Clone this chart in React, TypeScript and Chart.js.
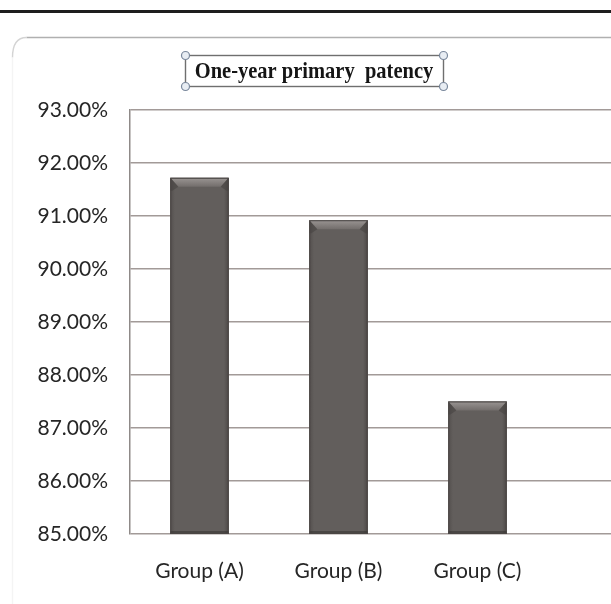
import React, { useEffect, useRef } from "react";
import { Chart, registerables } from "chart.js";

Chart.register(...registerables);

const categories = ["Group (A)", "Group (B)", "Group (C)", ""];
const patency = [91.72, 90.92, 87.5, null];
const yMin = 85;
const yMax = 93;
const yStep = 1;
const titleText = "One-year primary  patency";

const decorPlugin = {
  id: "decor",
  beforeDraw(chart: any) {
    const ctx = chart.ctx;
    ctx.save();
    ctx.fillStyle = "#ffffff";
    ctx.fillRect(0, 0, chart.width, chart.height);
    ctx.fillStyle = "#1e1e1e";
    ctx.fillRect(0, 10, chart.width, 3);
    const x0 = 12.5, y0 = 37.5, r = 14;
    ctx.strokeStyle = "#b0b0b0";
    ctx.lineWidth = 1.4;
    ctx.beginPath();
    ctx.moveTo(x0 + r, y0);
    ctx.lineTo(chart.width, y0);
    ctx.stroke();
    ctx.strokeStyle = "#d4d4d4";
    ctx.beginPath();
    ctx.moveTo(x0, y0 + r + 6);
    ctx.quadraticCurveTo(x0, y0, x0 + r, y0);
    ctx.stroke();
    ctx.strokeStyle = "#f4f4f4";
    ctx.beginPath();
    ctx.moveTo(x0, y0 + r + 6);
    ctx.lineTo(x0, chart.height);
    ctx.stroke();
    ctx.restore();
  },
  afterDatasetsDraw(chart: any) {
    const ctx = chart.ctx;
    const meta = chart.getDatasetMeta(0);
    const area = chart.chartArea;
    ctx.save();
    meta.data.forEach((bar: any, i: number) => {
      if (patency[i] == null) return;
      const w = bar.width;
      const left = bar.x - w / 2;
      const right = bar.x + w / 2;
      const top = bar.y;
      const bottom = Math.min(bar.base, area.bottom);
      const b = 9;
      const s = 8;
      const gb = ctx.createLinearGradient(left, 0, right, 0);
      gb.addColorStop(0, "#534f4d");
      gb.addColorStop(0.08, "#625e5c");
      gb.addColorStop(0.92, "#625e5c");
      gb.addColorStop(1, "#4c4846");
      ctx.fillStyle = gb;
      ctx.fillRect(left, top, w, bottom - top);
      const g = ctx.createLinearGradient(0, top, 0, top + b);
      g.addColorStop(0, "#9a9593");
      g.addColorStop(1, "#726d6b");
      ctx.fillStyle = g;
      ctx.beginPath();
      ctx.moveTo(left, top);
      ctx.lineTo(right, top);
      ctx.lineTo(right - s, top + b);
      ctx.lineTo(left + s, top + b);
      ctx.closePath();
      ctx.fill();
      ctx.fillStyle = "rgba(70,66,64,0.55)";
      ctx.beginPath();
      ctx.moveTo(left, top);
      ctx.lineTo(left + s, top + b);
      ctx.lineTo(left + 2, top + b + 4);
      ctx.lineTo(left, top + b + 4);
      ctx.closePath();
      ctx.fill();
      ctx.beginPath();
      ctx.moveTo(right, top);
      ctx.lineTo(right - s, top + b);
      ctx.lineTo(right - 2, top + b + 4);
      ctx.lineTo(right, top + b + 4);
      ctx.closePath();
      ctx.fill();
      ctx.fillStyle = "rgba(45,42,41,0.45)";
      ctx.fillRect(left, bottom - 3, w, 3);
      ctx.strokeStyle = "#4a4644";
      ctx.lineWidth = 1;
      ctx.strokeRect(left + 0.5, top + 0.5, w - 1, bottom - top - 1);
    });
    ctx.restore();
  },
  afterDraw(chart: any) {
    const ctx = chart.ctx;
    ctx.save();
    const cx = 314, cy = 71;
    const bx0 = 185.5, bx1 = 443.5;
    const by0 = 55.5, by1 = 86.5;
    ctx.strokeStyle = "#6f6f6f";
    ctx.lineWidth = 1.4;
    ctx.strokeRect(bx0, by0, bx1 - bx0, by1 - by0);
    ctx.save();
    ctx.translate(cx, cy + 1);
    ctx.scale(1, 1.15);
    ctx.font = "bold 20.5px 'Liberation Serif', 'DejaVu Serif', serif";
    ctx.fillStyle = "#151515";
    ctx.textAlign = "center";
    ctx.textBaseline = "middle";
    ctx.fillText(titleText, 0, 0);
    ctx.restore();
    const corners = [[bx0, by0], [bx1, by0], [bx0, by1], [bx1, by1]];
    corners.forEach(([x, y]) => {
      ctx.beginPath();
      ctx.arc(x, y, 4, 0, Math.PI * 2);
      ctx.fillStyle = "#e8edf3";
      ctx.fill();
      ctx.strokeStyle = "#7a889c";
      ctx.lineWidth = 1.2;
      ctx.stroke();
    });
    ctx.restore();
  },
};

export default function App() {
  const ref = useRef<HTMLCanvasElement | null>(null);
  useEffect(() => {
    if (!ref.current) return;
    const chart = new Chart(ref.current, {
      type: "bar",
      data: {
        labels: categories,
        datasets: [
          {
            data: patency as any,
            backgroundColor: "#5e5a58",
            borderWidth: 0,
            barPercentage: 0.42,
            categoryPercentage: 1,
          },
        ],
      },
      options: {
        animation: false,
        responsive: true,
        maintainAspectRatio: false,
        layout: { padding: { top: 110, left: 0, right: 0, bottom: 0 } },
        plugins: {
          legend: { display: false },
          title: { display: false },
          tooltip: { enabled: false },
        },
        scales: {
          x: {
            offset: true,
            grid: { display: false, drawTicks: false },
            border: { display: false },
            ticks: {
              color: "#262626",
              padding: 25,
              font: { family: "Lato, 'Open Sans', sans-serif", size: 21 },
              maxRotation: 0,
              autoSkip: false,
            },
            afterFit(scale: any) {
              scale.height = 70;
            },
          },
          y: {
            min: yMin,
            max: yMax,
            grid: { color: "#a29a98", lineWidth: 1.5, drawTicks: false },
            border: { display: true, color: "#8f8a88", width: 1.5 },
            ticks: {
              stepSize: yStep,
              color: "#262626",
              padding: 22,
              font: { family: "Lato, 'Open Sans', sans-serif", size: 21 },
              callback: (v: any) => Number(v).toFixed(2) + "%",
            },
            afterFit(scale: any) {
              scale.width = 130;
            },
          },
        },
      },
      plugins: [decorPlugin],
    });
    return () => chart.destroy();
  }, []);
  return (
    <div style={{ position: "absolute", left: 0, top: 0, width: 611, height: 604, overflow: "hidden", background: "#fff" }}>
      <div style={{ position: "relative", width: 686, height: 604 }}>
        <canvas ref={ref} />
      </div>
    </div>
  );
}
